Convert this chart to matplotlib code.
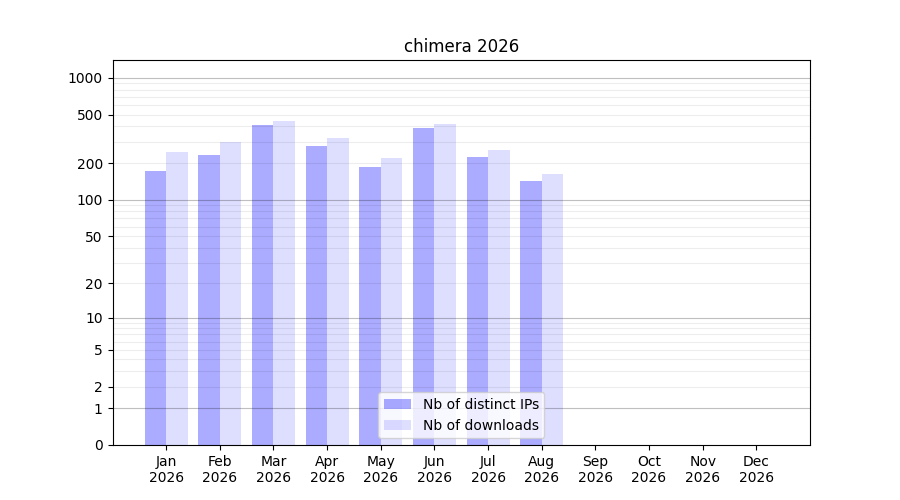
import numpy as np
import matplotlib
matplotlib.use("Agg")
import matplotlib.pyplot as plt
from matplotlib.ticker import FixedLocator, NullFormatter

months = ["Jan", "Feb", "Mar", "Apr", "May", "Jun", "Jul", "Aug", "Sep", "Oct", "Nov", "Dec"]
year = "2026"
ips = [174, 235, 414, 279, 187, 392, 226, 144, 0, 0, 0, 0]
downloads = [249, 300, 447, 324, 222, 422, 258, 164, 0, 0, 0, 0]
yticks = [0, 1, 2, 5, 10, 20, 50, 100, 200, 500, 1000]
decades = [1, 10, 100, 1000]

fig, ax = plt.subplots(figsize=(9, 5), dpi=100)
fwd = lambda v: np.log10(1 + np.clip(v, 0, None))
inv = lambda v: 10 ** v - 1
ax.set_yscale('function', functions=(fwd, inv))

x = np.arange(len(months))
w = 0.4
ax.bar(x, ips, width=-w, align='edge', color='blue', alpha=0.33, label='Nb of distinct IPs')
ax.bar(x, downloads, width=w, align='edge', color='blue', alpha=0.13, label='Nb of downloads')

ax.set_xticks(x)
ax.set_xticklabels([f"{m}\n{year}" for m in months])
ax.set_xlim(-1, 12)
ax.set_ylim(0, 1400)
ax.yaxis.set_major_locator(FixedLocator(yticks))
ax.set_yticklabels([str(t) for t in yticks])
minor = [m * 10 ** e for e in range(0, 3) for m in (3, 4, 6, 7, 8, 9)]
ax.yaxis.set_minor_locator(FixedLocator(minor))
ax.yaxis.set_minor_formatter(NullFormatter())
ax.tick_params(axis='y', which='minor', length=0)
ax.grid(True, which='major', axis='y', color='black', alpha=0.25, linewidth=0.8)
ax.grid(True, which='minor', axis='y', color='black', alpha=0.07, linewidth=0.8)
for t, gl in zip(yticks, ax.yaxis.get_gridlines()):
    if t not in decades:
        gl.set_alpha(0.07)
ax.set_title(f"chimera {year}")
ax.legend(loc='lower center')
fig.savefig("out.png")
